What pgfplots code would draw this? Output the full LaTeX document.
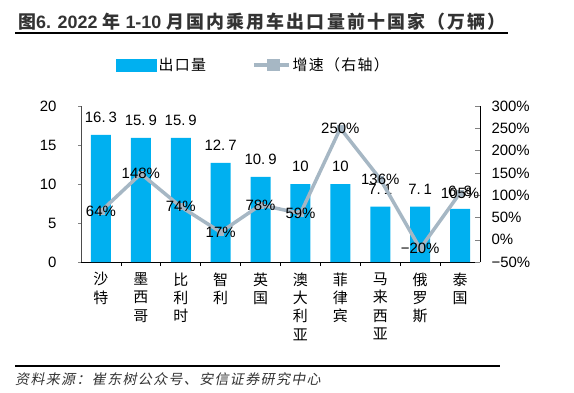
\documentclass[border=0pt]{standalone}
\usepackage{fontspec}
\setmainfont{Liberation Sans}
\newfontfamily\cjk{Noto Sans CJK SC}
\newfontfamily\cjkt[LetterSpace=12]{Noto Sans CJK SC}
\newfontfamily\cjkl[LetterSpace=9]{Noto Sans CJK SC}
\newfontfamily\cjkit[FakeSlant=0.2,LetterSpace=10]{Noto Sans CJK SC}
\usepackage{pgfplots}
\pgfplotsset{compat=1.18}
\definecolor{barblue}{HTML}{00B0F0}
\definecolor{linegray}{HTML}{A6B7C4}
\definecolor{titlegray}{HTML}{333333}
\begin{document}
\begin{tikzpicture}[x=1bp,y=1bp]
\node[anchor=base west, inner sep=0, text=titlegray, font=\bfseries\fontsize{18}{20}\selectfont] at (18,364)
 {{\cjkt\bfseries 图}6. 2022 {\cjkt\bfseries 年} 1-10 {\cjkt\bfseries 月国内乘用车出口量前十国家（万辆）}};
\draw[line width=2bp] (15,359) -- (508,359);
\draw[line width=2bp] (15,26) -- (500,26);
\node[anchor=base west, inner sep=0, text=titlegray, font=\cjkit\fontsize{14}{16}\selectfont] at (15,8)
 {资料来源：崔东树公众号、安信证券研究中心};

\begin{axis}[at={(81bp,130bp)}, anchor=south west, scale only axis,
  width=399bp, height=156bp,
  xmin=-0.5, xmax=9.5, ymin=0, ymax=20,
  ytick={0,5,10,15,20},
  axis x line*=bottom, axis y line*=left,
  tick align=outside,
  xtick={0,...,9},
  xticklabels={{沙\\特},{墨\\西\\哥},{比\\利\\时},{智\\利},{英\\国},{澳\\大\\利\\亚},{菲\\律\\宾},{马\\来\\西\\亚},{俄\\罗\\斯},{泰\\国}},
  xticklabel style={align=center, font=\cjk\fontsize{15}{18.5}\selectfont, yshift=-4bp},
  major x tick style={draw=none},
  minor xtick={0.5,1.5,...,8.5},
  minor tick length=4bp,
  major tick length=3bp,
  minor x tick style={black, line width=0.8bp},
  y axis line style={draw=black!70, line width=0.8bp},
  x axis line style={black, line width=1bp},
  /pgf/number format/assume math mode=true,
  yticklabel style={font=\fontsize{15}{18}\selectfont, xshift=-18bp},
  axis line style={-},
  clip=false,
]
\addplot[ybar, fill=barblue, draw=none, bar width=20bp,
  nodes near coords, point meta=explicit symbolic,
  every node near coord/.append style={font=\fontsize{15}{18}\selectfont, text=black, yshift=9bp}]
 coordinates {
 (0,16.3) [16.\kern3bp 3]
 (1,15.9) [15.\kern3bp 9]
 (2,15.9) [15.\kern3bp 9]
 (3,12.7) [12.\kern3bp 7]
 (4,10.9) [10.\kern3bp 9]
 (5,10)   [10]
 (6,10)   [10]
 (7,7.1)  [7.\kern3bp 1]
 (8,7.1)  [7.\kern3bp 1]
 (9,6.8)  [6.\kern3bp 8]
 };
\end{axis}

\begin{axis}[at={(81bp,130bp)}, anchor=south west, scale only axis,
  width=399bp, height=156bp,
  xmin=-0.5, xmax=9.5, ymin=-50, ymax=300,
  axis y line*=right, axis x line=none,
  ytick={-50,0,50,100,150,200,250,300},
  yticklabels={−50\%,0\%,50\%,100\%,150\%,200\%,250\%,300\%},
  tick align=inside, major tick length=5bp,
  y axis line style={black, line width=0.8bp},
  yticklabel style={font=\fontsize{15}{18}\selectfont, xshift=8bp},
  clip=false,
  legend style={at={(axis description cs:0.08,1.263)}, anchor=west, draw=none, fill=none,
    font=\cjkl\fontsize{15}{18}\selectfont, legend columns=2,
    /tikz/every even column/.append style={column sep=44bp}},
  legend cell align=left,
]
\addlegendimage{legend image code/.code={\fill[barblue] (0bp,-6bp) rectangle (40bp,6bp);}}
\addlegendentry{出口量}
\addplot[linegray, line width=3.5bp, mark=square*, mark size=3bp,
  mark options={fill=linegray, draw=linegray, line width=0.5bp},
  nodes near coords, point meta=explicit symbolic,
  every node near coord/.append style={anchor=center, font=\fontsize{15}{18}\selectfont, text=black},
  legend image code/.code={\draw[linegray, line width=3.5bp] (0bp,0bp) -- (35bp,0bp);
     \fill[linegray] (15bp,-4.5bp) rectangle (24bp,4.5bp);}]
 coordinates {
 (0,64)  [64\%]
 (1,148) [148\%]
 (2,74)  [74\%]
 (3,17)  [17\%]
 (4,78)  [78\%]
 (5,59)  [59\%]
 (6,250) [250\%]
 (7,136) [136\%]
 (8,-20) [−20\%]
 (9,105) [105\%]
 };
\addlegendentry{增速（右轴）}
\end{axis}
\pgfresetboundingbox
\useasboundingbox (0,0) rectangle (574,392);
\end{tikzpicture}
\end{document}
